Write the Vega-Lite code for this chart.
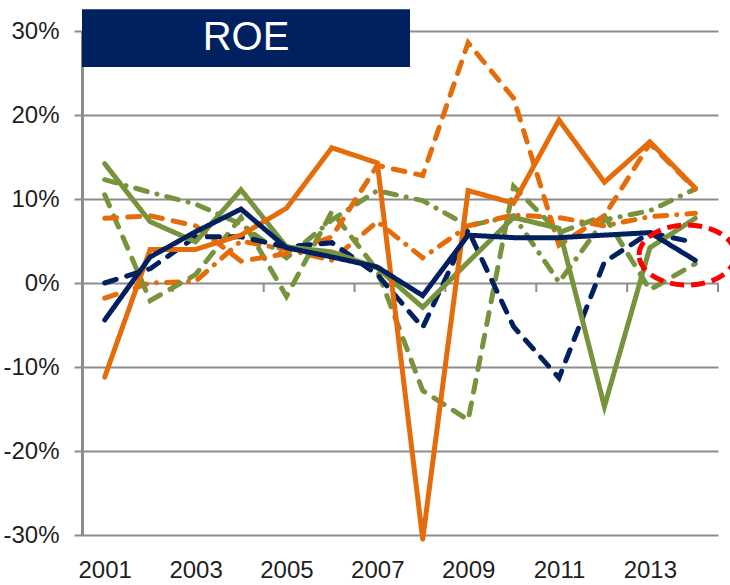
{
  "$schema": "https://vega.github.io/schema/vega-lite/v6.json",
  "width": 636,
  "height": 504,
  "autosize": {"type": "none"},
  "padding": {"left": 82, "top": 31, "right": 12, "bottom": 50},
  "background": "white",
  "config": {
    "view": {"stroke": null},
    "font": "Liberation Sans",
    "axisY": {"title": null,
      "grid": true, "gridColor": "#8c8c8c", "gridWidth": 2,
      "domain": true, "domainColor": "#8c8c8c", "domainWidth": 3,
      "ticks": true, "tickColor": "#8c8c8c", "tickWidth": 2, "tickSize": 8,
      "labelFontSize": 24, "labelPadding": 15, "labelColor": "#1f1f1f", "labelFont": "Liberation Sans"},
    "axisX": {"title": null,
      "ticks": false, "tickSize": 0, "domain": false, "grid": false,
      "labelFontSize": 24, "labelColor": "#1f1f1f", "labelPadding": 23, "labelFont": "Liberation Sans"}
  },
  "datasets": {
    "roe": [
    {"series": "G3", "year": 2001, "roe": 0.123}, {"series": "G3", "year": 2002, "roe": 0.108}, {"series": "G3", "year": 2003, "roe": 0.094}, {"series": "G3", "year": 2004, "roe": 0.070}, {"series": "G3", "year": 2005, "roe": 0.030}, {"series": "G3", "year": 2006, "roe": 0.075}, {"series": "G3", "year": 2007, "roe": 0.110}, {"series": "G3", "year": 2008, "roe": 0.098}, {"series": "G3", "year": 2009, "roe": 0.068}, {"series": "G3", "year": 2010, "roe": 0.080}, {"series": "G3", "year": 2011, "roe": 0.001}, {"series": "G3", "year": 2012, "roe": 0.075}, {"series": "G3", "year": 2013, "roe": 0.086}, {"series": "G3", "year": 2014, "roe": 0.112},
    {"series": "O3", "year": 2001, "roe": -0.018}, {"series": "O3", "year": 2002, "roe": 0.000}, {"series": "O3", "year": 2003, "roe": 0.002}, {"series": "O3", "year": 2004, "roe": 0.050}, {"series": "O3", "year": 2005, "roe": 0.040}, {"series": "O3", "year": 2006, "roe": 0.027}, {"series": "O3", "year": 2007, "roe": 0.073}, {"series": "O3", "year": 2008, "roe": 0.030}, {"series": "O3", "year": 2009, "roe": 0.068}, {"series": "O3", "year": 2010, "roe": 0.081}, {"series": "O3", "year": 2011, "roe": 0.078}, {"series": "O3", "year": 2012, "roe": 0.068}, {"series": "O3", "year": 2013, "roe": 0.079}, {"series": "O3", "year": 2014, "roe": 0.083},
    {"series": "G2", "year": 2001, "roe": 0.105}, {"series": "G2", "year": 2002, "roe": -0.021}, {"series": "G2", "year": 2003, "roe": 0.010}, {"series": "G2", "year": 2004, "roe": 0.078}, {"series": "G2", "year": 2005, "roe": -0.016}, {"series": "G2", "year": 2006, "roe": 0.085}, {"series": "G2", "year": 2007, "roe": 0.015}, {"series": "G2", "year": 2008, "roe": -0.128}, {"series": "G2", "year": 2009, "roe": -0.163}, {"series": "G2", "year": 2010, "roe": 0.115}, {"series": "G2", "year": 2011, "roe": 0.060}, {"series": "G2", "year": 2012, "roe": 0.080}, {"series": "G2", "year": 2013, "roe": -0.008}, {"series": "G2", "year": 2014, "roe": 0.023},
    {"series": "O2", "year": 2001, "roe": 0.077}, {"series": "O2", "year": 2002, "roe": 0.080}, {"series": "O2", "year": 2003, "roe": 0.068}, {"series": "O2", "year": 2004, "roe": 0.026}, {"series": "O2", "year": 2005, "roe": 0.035}, {"series": "O2", "year": 2006, "roe": 0.055}, {"series": "O2", "year": 2007, "roe": 0.140}, {"series": "O2", "year": 2008, "roe": 0.128}, {"series": "O2", "year": 2009, "roe": 0.286}, {"series": "O2", "year": 2010, "roe": 0.220}, {"series": "O2", "year": 2011, "roe": 0.045}, {"series": "O2", "year": 2012, "roe": 0.080}, {"series": "O2", "year": 2013, "roe": 0.166}, {"series": "O2", "year": 2014, "roe": 0.112},
    {"series": "N2", "year": 2001, "roe": 0.000}, {"series": "N2", "year": 2002, "roe": 0.017}, {"series": "N2", "year": 2003, "roe": 0.055}, {"series": "N2", "year": 2004, "roe": 0.055}, {"series": "N2", "year": 2005, "roe": 0.043}, {"series": "N2", "year": 2006, "roe": 0.048}, {"series": "N2", "year": 2007, "roe": 0.010}, {"series": "N2", "year": 2008, "roe": -0.053}, {"series": "N2", "year": 2009, "roe": 0.063}, {"series": "N2", "year": 2010, "roe": -0.052}, {"series": "N2", "year": 2011, "roe": -0.113}, {"series": "N2", "year": 2012, "roe": 0.025}, {"series": "N2", "year": 2013, "roe": 0.060}, {"series": "N2", "year": 2014, "roe": 0.048},
    {"series": "G1", "year": 2001, "roe": 0.142}, {"series": "G1", "year": 2002, "roe": 0.073}, {"series": "G1", "year": 2003, "roe": 0.049}, {"series": "G1", "year": 2004, "roe": 0.111}, {"series": "G1", "year": 2005, "roe": 0.043}, {"series": "G1", "year": 2006, "roe": 0.037}, {"series": "G1", "year": 2007, "roe": 0.018}, {"series": "G1", "year": 2008, "roe": -0.029}, {"series": "G1", "year": 2009, "roe": 0.025}, {"series": "G1", "year": 2010, "roe": 0.078}, {"series": "G1", "year": 2011, "roe": 0.065}, {"series": "G1", "year": 2012, "roe": -0.147}, {"series": "G1", "year": 2013, "roe": 0.042}, {"series": "G1", "year": 2014, "roe": 0.077},
    {"series": "O1", "year": 2001, "roe": -0.112}, {"series": "O1", "year": 2002, "roe": 0.040}, {"series": "O1", "year": 2003, "roe": 0.040}, {"series": "O1", "year": 2004, "roe": 0.057}, {"series": "O1", "year": 2005, "roe": 0.089}, {"series": "O1", "year": 2006, "roe": 0.161}, {"series": "O1", "year": 2007, "roe": 0.143}, {"series": "O1", "year": 2008, "roe": -0.305}, {"series": "O1", "year": 2009, "roe": 0.110}, {"series": "O1", "year": 2010, "roe": 0.095}, {"series": "O1", "year": 2011, "roe": 0.194}, {"series": "O1", "year": 2012, "roe": 0.120}, {"series": "O1", "year": 2013, "roe": 0.168}, {"series": "O1", "year": 2014, "roe": 0.113},
    {"series": "N1", "year": 2001, "roe": -0.044}, {"series": "N1", "year": 2002, "roe": 0.031}, {"series": "N1", "year": 2003, "roe": 0.061}, {"series": "N1", "year": 2004, "roe": 0.088}, {"series": "N1", "year": 2005, "roe": 0.042}, {"series": "N1", "year": 2006, "roe": 0.031}, {"series": "N1", "year": 2007, "roe": 0.019}, {"series": "N1", "year": 2008, "roe": -0.015}, {"series": "N1", "year": 2009, "roe": 0.057}, {"series": "N1", "year": 2010, "roe": 0.054}, {"series": "N1", "year": 2011, "roe": 0.054}, {"series": "N1", "year": 2012, "roe": 0.057}, {"series": "N1", "year": 2013, "roe": 0.060}, {"series": "N1", "year": 2014, "roe": 0.027}
    ],
    "boundaries": [{"b": 2000.5}, {"b": 2002.5}, {"b": 2004.5}, {"b": 2006.5}, {"b": 2008.5}, {"b": 2010.5}, {"b": 2012.5}, {"b": 2014.5}],
    "label": [{"title": "ROE"}]
  },
  "layer": [
    {
      "data": {"name": "boundaries"},
      "mark": {"type": "rule", "color": "#8c8c8c", "strokeWidth": 2},
      "encoding": {
        "x": {"field": "b", "type": "quantitative", "scale": {"domain": [2000.5, 2014.5], "nice": false, "zero": false},
          "axis": {"values": [2001, 2003, 2005, 2007, 2009, 2011, 2013], "format": "d"}},
        "y": {"datum": 0, "type": "quantitative", "scale": {"domain": [-0.3, 0.3], "nice": false, "zero": false},
          "axis": {"values": [-0.3, -0.2, -0.1, 0, 0.1, 0.2, 0.3],
            "labelExpr": "(datum.value < 0 ? '-' : '') + format(abs(datum.value), '.0%')"}},
        "y2": {"datum": -0.0107}
      }
    },
    {
      "data": {"name": "roe"},
      "mark": {"type": "line", "strokeWidth": 5, "strokeCap": "round"},
      "encoding": {
        "x": {"field": "year", "type": "quantitative",
          "axis": {"values": [2001, 2003, 2005, 2007, 2009, 2011, 2013], "format": "d"}},
        "y": {"field": "roe", "type": "quantitative",
          "axis": {"values": [-0.3, -0.2, -0.1, 0, 0.1, 0.2, 0.3],
            "labelExpr": "(datum.value < 0 ? '-' : '') + format(abs(datum.value), '.0%')"}},
        "detail": {"field": "series"},
        "color": {"field": "series", "type": "nominal", "legend": null,
          "scale": {"domain": ["G3", "O3", "G2", "O2", "N2", "G1", "O1", "N1"],
            "range": ["#77933c", "#e46c0a", "#77933c", "#e46c0a", "#002060", "#77933c", "#e46c0a", "#002060"]}},
        "strokeDash": {"field": "series", "type": "nominal", "legend": null,
          "scale": {"domain": ["G3", "O3", "G2", "O2", "N2", "G1", "O1", "N1"],
            "range": [[12, 10, 0.1, 10], [12, 10, 0.1, 10], [12, 11], [12, 11], [12, 11], [1, 0], [1, 0], [1, 0]]}}
      }
    },
    {
      "data": {"name": "label"},
      "mark": {"type": "rect", "color": "#002060"},
      "encoding": {
        "x": {"datum": 2000.5, "type": "quantitative"},
        "x2": {"datum": 2007.72},
        "y": {"datum": 0.326, "type": "quantitative"},
        "y2": {"datum": 0.257}
      }
    },
    {
      "data": {"name": "label"},
      "mark": {"type": "text", "fontSize": 40, "color": "white", "font": "Liberation Sans", "align": "center", "baseline": "middle"},
      "encoding": {
        "text": {"field": "title"},
        "x": {"datum": 2004.11, "type": "quantitative"},
        "y": {"datum": 0.2917, "type": "quantitative"}
      }
    },
    {
      "data": {"name": "label"},
      "mark": {"type": "point", "shape": "M-1,0A1,0.625,0,1,1,1,0A1,0.625,0,1,1,-1,0Z", "size": 9216, "filled": false,
        "stroke": "#ff0000", "strokeWidth": 5, "strokeDash": [14, 7], "opacity": 1},
      "encoding": {
        "x": {"datum": 2013.82, "type": "quantitative"},
        "y": {"datum": 0.0333, "type": "quantitative"}
      }
    }
  ]
}
